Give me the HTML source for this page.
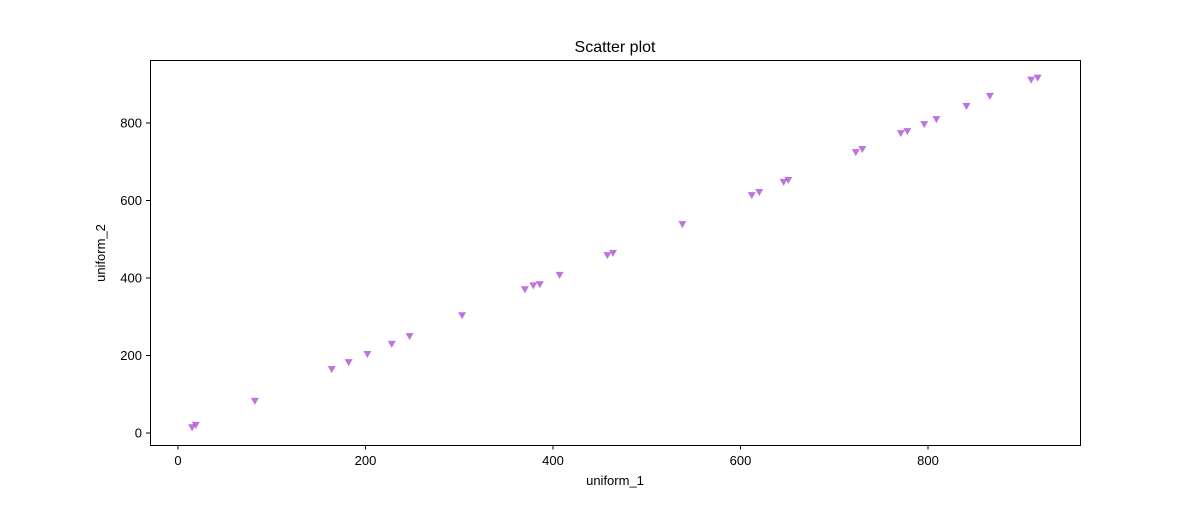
<!DOCTYPE html>
<html><head><meta charset="utf-8"><style>
body{margin:0;background:#fff;font-family:"Liberation Sans",sans-serif;}
svg text{font-family:"Liberation Sans",sans-serif;font-size:13px;fill:#000;}
</style></head><body>
<svg id="chart" width="1200" height="500" xmlns="http://www.w3.org/2000/svg">
<rect width="1200" height="500" fill="#fff"/>
<text x="615" y="52" text-anchor="middle" style="font-size:16px">Scatter plot</text>
<g id="marks"></g>
<g id="axes"></g>
<rect x="150.5" y="60.5" width="930" height="385" fill="none" stroke="#000" stroke-width="1"/>
<text x="615" y="485" text-anchor="middle">uniform_1</text>
<text transform="translate(105,253) rotate(-90)" text-anchor="middle">uniform_2</text>
</svg>
<script>
const xValues=[15,19,82,164,182,202,228,247,303,370,379,386,407,458,464,538,612,620,646,651,723,730,771,778,796,809,841,866,910,917];
const yValues=[15,21,83,165,183,204,230,250,304,371,381,384,408,459,465,539,614,622,648,653,725,733,774,779,797,810,844,870,912,917];
const xTicks=[0,200,400,600,800];
const yTicks=[0,200,400,600,800];
const sx=v=>178+v*0.9375;
const sy=v=>433-v*0.3875;
const NS="http://www.w3.org/2000/svg";
const marks=document.getElementById('marks'),axes=document.getElementById('axes');
xValues.forEach((xv,i)=>{
 const x=sx(xv),y=sy(yValues[i]);
 const p=document.createElementNS(NS,'polygon');
 p.setAttribute('points',`${x-4},${y-3} ${x+4},${y-3} ${x},${y+4}`);
 p.setAttribute('fill','#b35ad8');p.setAttribute('fill-opacity','0.85');
 
 
 marks.appendChild(p);
});
xTicks.forEach(t=>{
 const x=sx(t);
 const l=document.createElementNS(NS,'line');
 l.setAttribute('x1',x);l.setAttribute('x2',x);l.setAttribute('y1',445.5);l.setAttribute('y2',449.5);l.setAttribute('stroke','#000');
 
 
 axes.appendChild(l);
 const tx=document.createElementNS(NS,'text');
 tx.setAttribute('x',x);tx.setAttribute('y',465);tx.setAttribute('text-anchor','middle');tx.textContent=t;
 
 
 axes.appendChild(tx);
});
yTicks.forEach(t=>{
 const y=sy(t);
 const l=document.createElementNS(NS,'line');
 l.setAttribute('x1',146);l.setAttribute('x2',150.5);l.setAttribute('y1',y);l.setAttribute('y2',y);l.setAttribute('stroke','#000');
 
 
 axes.appendChild(l);
 const tx=document.createElementNS(NS,'text');
 tx.setAttribute('x',142);tx.setAttribute('y',y+4.5);tx.setAttribute('text-anchor','end');tx.textContent=t;
 
 
 axes.appendChild(tx);
});
</script>
</body></html>
